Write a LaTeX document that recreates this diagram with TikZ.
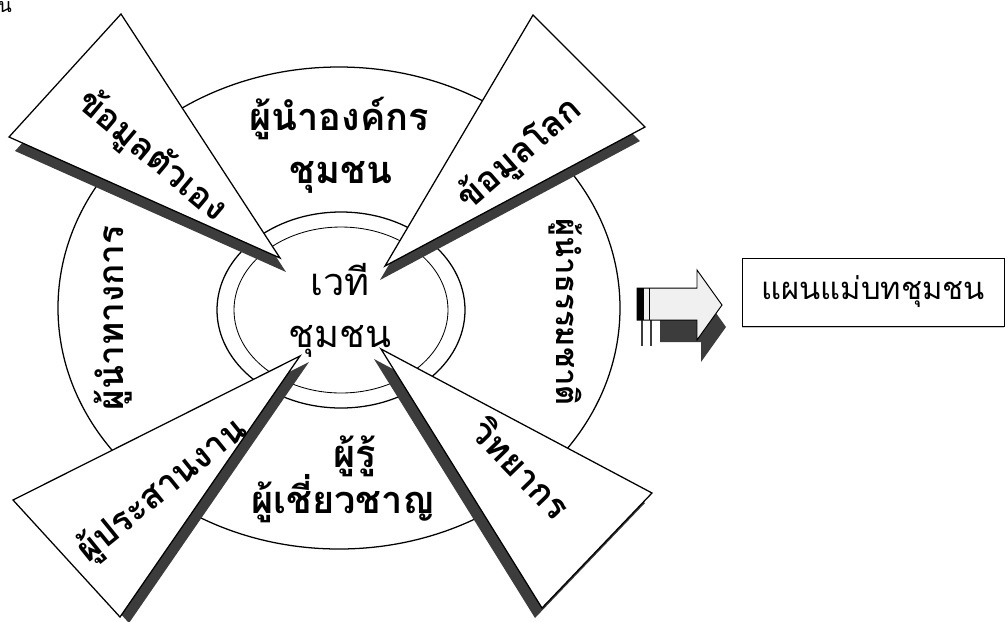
\documentclass[tikz,border=0pt]{standalone}
\usepackage{fontspec}
\newfontfamily\thaifont[Script=Thai]{Loma}
\usetikzlibrary{positioning,shadows}
\definecolor{shadowgrey}{HTML}{3C3C3C}

\begin{document}
\begin{tikzpicture}[
  x=0.025cm, y=-0.025cm,
  ring/.style={draw=black, line width=0.9pt},
  thinring/.style={draw=black, line width=0.6pt},
  wedge/.style={draw=black, fill=white, line width=0.9pt},
  wedgeshadow/.style={fill=shadowgrey},
  ringlbl/.style={font=\thaifont\bfseries\fontsize{27}{30}\selectfont, inner sep=0pt},
  sidelbl/.style={ringlbl, font=\thaifont\bfseries\fontsize{#1}{30}\selectfont},
  wedgelbl/.style={font=\thaifont\bfseries\fontsize{25}{28}\selectfont, inner sep=0pt},
  hublbl/.style={font=\thaifont\fontsize{27}{28}\selectfont, inner sep=0pt},
  planbox/.style={draw=black, fill=white, line width=0.6pt, minimum width=6.55cm, minimum height=1.7cm,
    font=\thaifont\fontsize{22}{24}\selectfont,
    drop shadow={shadow xshift=0pt, shadow yshift=-1.5pt, fill=black!45}}
]
\useasboundingbox (0,0) rectangle (1008,621);
\clip (0,0) rectangle (1008,621);

\node[anchor=base, inner sep=0pt, font=\thaifont\fontsize{14}{14}\selectfont] (stray) at (5,12) {น};

% Rings
\filldraw[ring, fill=white] (339,308) ellipse [x radius=281, y radius=241];
\draw[ring] (341,310) ellipse [x radius=124, y radius=98];
\draw[thinring] (341,310) ellipse [x radius=107, y radius=83];

% Ring labels
\node[ringlbl, anchor=base] (orglead) at (339,130) {ผู้นำองค์กร};
\node[ringlbl, anchor=base] (orgcomm) at (341,183) {ชุมชน};
\node[sidelbl=25, rotate=90] (formal) at (113,318) {ผู้นำทางการ};
\node[sidelbl=22, rotate=-90] (natural) at (566,312) {ผู้นำธรรมชาติ};
\node[ringlbl, anchor=base] (sage) at (355,467) {ผู้รู้};
\node[ringlbl, anchor=base] (expert) at (343,513) {ผู้เชี่ยวชาญ};

% Hub
\node[hublbl, anchor=base] (hubtop) at (340,295) {เวที};
\node[hublbl, anchor=base] (hubbot) at (340,347) {ชุมชน};

% Wedges
\fill[wedgeshadow, shift={(6,14)}] (280,258) -- (121,14) -- (9,137) -- cycle;
\filldraw[wedge] (280,258) -- (121,14) -- (9,137) -- cycle;
\node[wedgelbl, rotate=-40] (selfdata) at (152,156) {ข้อมูลตัวเอง};

\fill[wedgeshadow, shift={(-5,14)}] (385,266) -- (533,15) -- (645,127) -- cycle;
\filldraw[wedge] (385,266) -- (533,15) -- (645,127) -- cycle;
\node[wedgelbl, rotate=41] (worlddata) at (520,154) {ข้อมูลโลก};

\fill[wedgeshadow, shift={(9,6)}] (300,356) -- (13,500) -- (120,617) -- cycle;
\filldraw[wedge] (300,356) -- (13,500) -- (120,617) -- cycle;
\node[wedgelbl, rotate=39] (coord) at (162,490) {ผู้ประสานงาน};

\fill[wedgeshadow, shift={(-7,10)}] (381,349) -- (652,493) -- (542,608) -- cycle;
\filldraw[wedge] (381,349) -- (652,493) -- (542,608) -- cycle;
\node[wedgelbl, rotate=-46] (lecturer) at (522,468) {วิทยากร};

% Block arrow
\fill[shadowgrey, shift={(4,22)}] (656,288) -- (697,288) -- (697,270) -- (722,305) -- (697,340) -- (697,320) -- (656,320) -- cycle;
\fill[shadowgrey] (641,320) rectangle (643,346);
\fill[shadowgrey] (650,320) rectangle (652,346);
\filldraw[draw=black, fill=black!6, line width=0.7pt] (637,288) -- (697,288) -- (697,270) -- (722,305) -- (697,340) -- (697,320) -- (637,320) -- cycle;
\fill[black] (637,288) rectangle (644,320);
\draw[line width=0.7pt] (649,288) -- (649,320);

% Plan box
\node[planbox] (plan) at (873,292) {แผนแม่บทชุมชน};

\end{tikzpicture}
\end{document}
